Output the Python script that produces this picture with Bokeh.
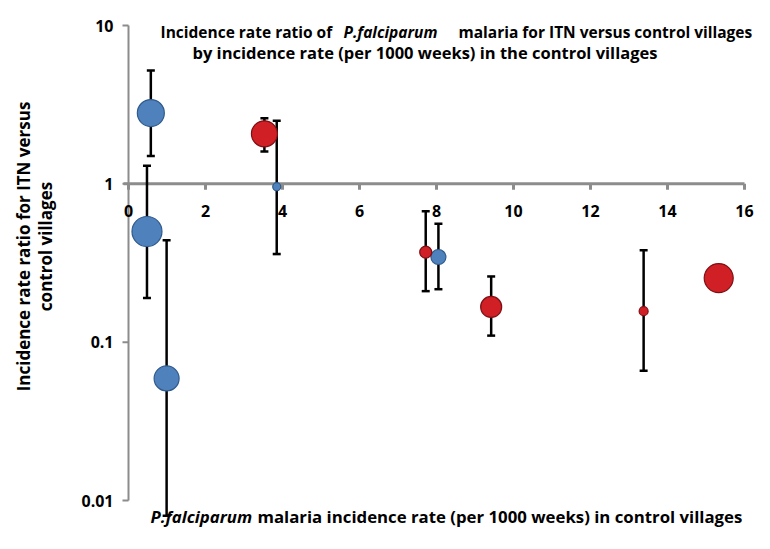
import math
from bokeh.plotting import figure
from bokeh.models import ColumnDataSource, Label, Range1d, Grid
from bokeh.core.properties import value
from bokeh.embed import file_html
from bokeh.resources import INLINE

# ---- data ----
blue_x = [0.48, 0.58, 0.99, 3.85, 8.05]
blue_irr = [0.50, 2.8, 0.059, 0.96, 0.345]
blue_lo = [0.19, 1.5, 0.008, 0.36, 0.216]
blue_hi = [1.3, 5.2, 0.44, 2.5, 0.56]
blue_size = [30, 27, 25, 8, 15]

red_x = [3.53, 7.72, 9.42, 13.38, 15.33]
red_irr = [2.07, 0.37, 0.167, 0.157, 0.254]
red_lo = [1.6, 0.21, 0.11, 0.066, None]
red_hi = [2.6, 0.67, 0.26, 0.38, None]
red_size = [26, 12, 21, 9, 29]

x_ticks = [0, 2, 4, 6, 8, 10, 12, 14, 16]
x_tick_labels = [str(t) for t in x_ticks]
y_ticks = [0.01, 0.1, 1, 10]
y_tick_labels = ["0.01", "0.1", "1", "10"]
x_cross = 1  # x axis crosses the y axis at IRR = 1

title_1a = "Incidence rate ratio of"
title_1b = "P.falciparum"
title_1c = "malaria for ITN versus control villages"
title_2 = "by incidence rate (per 1000 weeks) in the control villages"
xlab_a = "P.falciparum"
xlab_b = "malaria incidence rate (per 1000 weeks) in control villages"
ylab_1 = "Incidence rate ratio for ITN versus"
ylab_2 = "control villages"

# ---- layout (pixel anchors of the axes on the canvas) ----
W, H = 754, 533
PX_LO, PX_HI = 128, 744     # canvas x of first / last x tick
PY_HI, PY_LO = 25, 500      # canvas y of top / bottom y tick
FONT = "Open Sans"
AXIS_GRAY = "#8c8c8c"

xmin, xmax = x_ticks[0], x_ticks[-1]
ppu = (PX_HI - PX_LO) / (xmax - xmin)
lymin, lymax = math.log10(y_ticks[0]), math.log10(y_ticks[-1])
ppd = (PY_LO - PY_HI) / (lymax - lymin)
x_range = Range1d(xmin - PX_LO / ppu, xmax + (W - PX_HI) / ppu)
y_range = Range1d(10 ** (lymin - (H - PY_LO) / ppd), 10 ** (lymax + PY_HI / ppd))

p = figure(width=W, height=H, x_range=x_range, y_range=y_range,
           y_axis_type="log", x_axis_location=None, y_axis_location=None,
           output_backend="svg", toolbar_location=None,
           min_border=0, min_border_left=0, min_border_right=0,
           min_border_top=0, min_border_bottom=0)
p.outline_line_color = None
p.background_fill_color = "white"
p.border_fill_color = "white"
p.center = [r for r in p.center if not isinstance(r, Grid)]

def dx(px):  # pixels -> x data units
    return px / ppu

def fy(px):  # pixels -> multiplicative factor on log y
    return 10 ** (px / ppd)

# ---- y axis (at x = 0) ----
p.segment(x0=[xmin], y0=[y_ticks[0]], x1=[xmin], y1=[y_ticks[-1]],
          line_color=AXIS_GRAY, line_width=2)
p.segment(x0=[xmin - dx(6)] * len(y_ticks), y0=y_ticks, x1=[xmin] * len(y_ticks),
          y1=y_ticks, line_color=AXIS_GRAY, line_width=2)
p.text(x=[xmin] * len(y_ticks), y=y_ticks, text=y_tick_labels, x_offset=-15,
       text_align="right", text_baseline="middle", text_font=value(FONT),
       text_font_style="bold", text_font_size="16px", text_color="black")

# ---- x axis (at y = 1) ----
p.segment(x0=[xmin - dx(5)], y0=[x_cross], x1=[xmax], y1=[x_cross],
          line_color=AXIS_GRAY, line_width=3)
p.segment(x0=x_ticks, y0=[x_cross] * len(x_ticks), x1=x_ticks,
          y1=[x_cross / fy(6)] * len(x_ticks), line_color=AXIS_GRAY, line_width=3)
p.text(x=x_ticks, y=[x_cross] * len(x_ticks), text=x_tick_labels, y_offset=27,
       text_align="center", text_baseline="middle", text_font=value(FONT),
       text_font_style="bold", text_font_size="16px", text_color="black")

# ---- error bars ----
def bar_src(xs, lo, hi):
    keep = [i for i in range(len(xs)) if lo[i] is not None and hi[i] is not None]
    return ColumnDataSource(dict(x=[xs[i] for i in keep], lo=[lo[i] for i in keep],
                                 hi=[hi[i] for i in keep]))

for src in (bar_src(blue_x, blue_lo, blue_hi), bar_src(red_x, red_lo, red_hi)):
    p.segment(x0="x", y0="lo", x1="x", y1="hi", source=src,
              line_color="black", line_width=2.5)
    p.scatter("x", "lo", source=src, marker="dash", size=8,
              line_color="black", line_width=2.5)
    p.scatter("x", "hi", source=src, marker="dash", size=8,
              line_color="black", line_width=2.5)

# ---- points ----
bsrc = ColumnDataSource(dict(x=blue_x, y=blue_irr, s=blue_size))
rsrc = ColumnDataSource(dict(x=red_x, y=red_irr, s=red_size))
p.scatter("x", "y", size="s", source=bsrc, fill_color="#4f81bd",
          line_color="#2f5b8c", line_width=1.2)
p.scatter("x", "y", size="s", source=rsrc, fill_color="#d01f25",
          line_color="#7e1014", line_width=1.2)

# ---- texts (canvas pixel positions from the top-left) ----
def lab(text, px, py, size, style="bold", align="left", baseline="alphabetic", angle=0):
    p.add_layout(Label(x=px, y=H - py, x_units="screen", y_units="screen",
                       text=text, text_font=FONT, text_font_size=size,
                       text_font_style=style, text_color="black", text_align=align,
                       text_baseline=baseline, angle=angle))

lab(title_1a, 160, 31, "15.5px")
lab(title_1b, 343, 31, "15.5px", style="bold italic")
lab(title_1c, 458, 31, "15.5px")
lab(title_2, 192, 52, "16.5px")

lab(xlab_a, 150, 516, "16.8px", style="bold italic")
lab(xlab_b, 257, 516, "16.8px")

lab(ylab_1, 23, 246, "17px", align="center", baseline="middle", angle=math.pi / 2)
lab(ylab_2, 45, 246, "17px", align="center", baseline="middle", angle=math.pi / 2)

open("out.html", "w").write(file_html(p, INLINE))
